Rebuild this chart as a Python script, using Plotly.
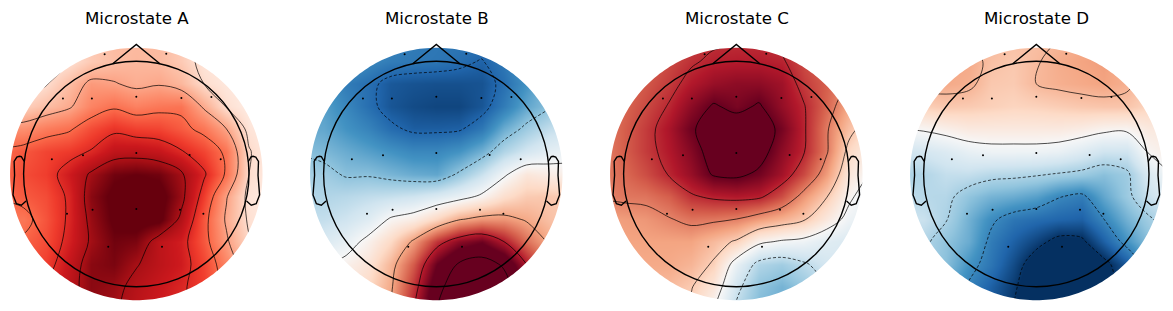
import numpy as np
import plotly.graph_objects as go

titles = ["Microstate A", "Microstate B", "Microstate C", "Microstate D"]
grid_x = [-1.2, -1.0, -0.8, -0.6, -0.4, -0.2, 0.0, 0.2, 0.4, 0.6, 0.8, 1.0, 1.2]
grid_y = [1.2, 1.0, 0.8, 0.6, 0.4, 0.2, 0.0, -0.2, -0.4, -0.6, -0.8, -1.0, -1.2]

map_a = [
 [.10,.10,.10,.15,.20,.25,.25,.25,.20,.10,.05,.05,.05],
 [.05,.05,.08,.12,.20,.24,.26,.25,.20,.10,.05,.03,.03],
 [.03,.06,.13,.24,.35,.33,.29,.31,.26,.14,.08,.04,.03],
 [.10,.18,.24,.30,.42,.48,.43,.46,.47,.30,.13,.05,.03],
 [.38,.38,.44,.48,.58,.65,.61,.60,.54,.46,.32,.10,.05],
 [.50,.55,.60,.63,.69,.79,.80,.77,.69,.60,.47,.15,.05],
 [.50,.58,.62,.74,.88,.98,1.0,.98,.88,.70,.48,.14,.05],
 [.50,.54,.58,.70,.93,1.03,1.06,1.05,.90,.62,.33,.10,.05],
 [.45,.46,.56,.70,.90,1.02,1.05,1.03,.83,.55,.30,.12,.05],
 [.50,.52,.58,.72,.88,.98,.96,.80,.73,.55,.34,.15,.05],
 [.50,.55,.62,.77,.93,.96,.87,.80,.74,.60,.42,.20,.08],
 [.60,.64,.68,.80,.93,.90,.82,.76,.70,.62,.45,.25,.10],
 [.60,.65,.70,.80,.90,.88,.80,.74,.70,.62,.45,.25,.10],
]
map_b = [
 [-.50,-.50,-.55,-.60,-.65,-.70,-.72,-.72,-.72,-.65,-.55,-.50,-.45],
 [-.50,-.50,-.55,-.65,-.70,-.72,-.73,-.76,-.81,-.72,-.55,-.45,-.40],
 [-.50,-.60,-.70,-.76,-.85,-.87,-.88,-.88,-.87,-.76,-.60,-.42,-.35],
 [-.50,-.55,-.65,-.76,-.86,-.90,-.92,-.92,-.86,-.70,-.52,-.42,-.30],
 [-.50,-.52,-.60,-.67,-.77,-.83,-.83,-.82,-.72,-.50,-.36,-.25,-.20],
 [-.42,-.45,-.50,-.55,-.60,-.65,-.65,-.60,-.48,-.30,-.18,-.10,-.05],
 [-.32,-.35,-.42,-.42,-.46,-.50,-.52,-.38,-.22,-.03,.12,.08,.05],
 [-.30,-.30,-.28,-.25,-.23,-.20,-.14,-.07,.03,.17,.26,.27,.25],
 [-.25,-.24,-.20,-.12,.02,.08,.22,.38,.45,.45,.38,.30,.25],
 [-.20,-.15,-.08,.05,.20,.43,.72,.90,.98,.80,.55,.38,.30],
 [-.10,-.02,.05,.14,.34,.62,1.0,1.22,1.30,1.17,.80,.50,.35],
 [0,.05,.10,.20,.38,.72,1.12,1.35,1.45,1.30,1.0,.60,.40],
 [0,.05,.12,.25,.42,.80,1.20,1.40,1.50,1.35,1.05,.65,.40],
]
map_c = [
 [.45,.50,.55,.62,.68,.72,.73,.73,.70,.62,.50,.40,.35],
 [.50,.52,.58,.66,.73,.78,.79,.79,.77,.66,.55,.45,.35],
 [.50,.55,.62,.70,.80,.87,.90,.90,.85,.70,.60,.47,.35],
 [.50,.58,.66,.76,.90,1.02,.95,1.02,.88,.76,.58,.38,.30],
 [.50,.60,.70,.82,.98,1.08,1.12,1.10,.96,.77,.52,.30,.15],
 [.50,.60,.70,.80,.92,1.08,1.14,1.08,.90,.76,.52,.20,.05],
 [.50,.57,.65,.76,.87,1.02,1.04,.97,.84,.66,.42,.12,-.02],
 [.50,.53,.54,.60,.73,.78,.80,.78,.65,.44,.26,.03,-.10],
 [.40,.42,.44,.49,.54,.53,.50,.42,.35,.27,.10,-.05,-.10],
 [.40,.40,.40,.40,.40,.32,.23,.04,-.02,-.05,-.12,-.15,-.15],
 [.35,.36,.38,.38,.34,.23,-.08,-.30,-.35,-.27,-.18,-.15,-.15],
 [.30,.32,.34,.32,.26,.12,-.20,-.40,-.47,-.38,-.25,-.18,-.15],
 [.30,.30,.30,.30,.22,.0,-.28,-.45,-.50,-.40,-.28,-.18,-.15],
]
map_d = [
 [.30,.30,.30,.30,.33,.30,.30,.33,.38,.35,.30,.20,.10],
 [.30,.35,.40,.38,.30,.27,.32,.37,.40,.42,.36,.25,.15],
 [.35,.38,.38,.36,.27,.26,.33,.36,.38,.40,.36,.25,.15],
 [.20,.24,.27,.26,.24,.22,.23,.25,.27,.28,.28,.22,.15],
 [0,.02,.06,.10,.10,.10,.10,.10,.08,.04,.03,.10,.10],
 [-.20,-.18,-.14,-.08,-.05,-.05,-.05,-.07,-.13,-.20,-.20,.02,.08],
 [-.32,-.30,-.24,-.24,-.28,-.29,-.31,-.34,-.37,-.42,-.36,-.15,0],
 [-.25,-.28,-.29,-.40,-.47,-.50,-.55,-.65,-.70,-.52,-.37,-.22,-.10],
 [-.20,-.22,-.32,-.48,-.63,-.73,-.77,-.80,-.82,-.66,-.48,-.35,-.25],
 [-.25,-.30,-.40,-.50,-.70,-.82,-.93,-1.05,-1.03,-.82,-.60,-.42,-.30],
 [-.30,-.33,-.42,-.60,-.73,-.90,-1.10,-1.20,-1.20,-1.05,-.85,-.55,-.35],
 [-.35,-.40,-.50,-.68,-.82,-.96,-1.15,-1.25,-1.25,-1.10,-.90,-.60,-.40],
 [-.40,-.45,-.55,-.72,-.85,-1.0,-1.20,-1.30,-1.30,-1.15,-.95,-.65,-.45],
]
levels_a = [.14, .32, .50, .68, .86]
levels_b = [-.8, -.4, 0, .4, .8, 1.2]
levels_c = [-.25, 0, .25, .5, .75, 1.0]
levels_d = [-.99, -.66, -.33, 0, .33]

sensor_x = [-.281, .266, -.651, -.394, .0, .4, .666, -.749, -.473, .0, .473, .749, -.615, -.388, .0, .388, .595, -.249, .228]
sensor_y = [1.062, 1.068, .670, .670, .686, .675, .683, .130, .166, .186, .169, .130, -.352, -.317, -.311, -.317, -.352, -.645, -.645]

REDS = [[0, "#fff5f0"], [.125, "#fee0d2"], [.25, "#fcbba1"], [.375, "#fc9272"], [.5, "#fb6a4a"],
        [.625, "#ef3b2c"], [.75, "#cb181d"], [.875, "#a50f15"], [1, "#67000d"]]
RDBU = [[0, "#053061"], [.1, "#2166ac"], [.2, "#4393c3"], [.3, "#92c5de"], [.4, "#d1e5f0"], [.5, "#f7f7f7"],
        [.6, "#fddbc7"], [.7, "#f4a582"], [.8, "#d6604d"], [.9, "#b2182b"], [1, "#67001f"]]

W, H = 1173, 311
UNIT = 112.7
CENTERS = [136.3, 436.3, 736.3, 1036.3]
CY = 174.0
HALF_PX = 149.5
EDGE = 1.12

maps = [map_a, map_b, map_c, map_d]
levels = [levels_a, levels_b, levels_c, levels_d]
scales = [(REDS, 0, 1.0), (RDBU, -1, 1), (RDBU, -1, 1), (RDBU, -1, 1)]

ear_x = [.994, 1.02, 1.036, 1.06, 1.084, 1.08, 1.094, 1.064, 1.02, .978]
ear_y = [.111, .155, .157, .149, .111, -.011, -.186, -.263, -.277, -.24]
nose_x, nose_y = .2094, .978
nose_tip = 1.15


def poly(xs, ys):
    return "M" + " L".join(f"{a:.4f},{b:.4f}" for a, b in zip(xs, ys))


theta = np.linspace(0, 2 * np.pi, 241)
hole = poly(EDGE * np.cos(theta), EDGE * np.sin(theta)) + " Z"
mask_path = "M-1.6,-1.6 L1.6,-1.6 L1.6,1.6 L-1.6,1.6 Z " + hole

fig = go.Figure()
shapes = []
annotations = []
layout_axes = {}
for i, cx in enumerate(CENTERS):
    suffix = "" if i == 0 else str(i + 1)
    xa, ya = "x" + suffix, "y" + suffix
    px_l, px_r = max(cx - HALF_PX, 0), min(cx + HALF_PX, W)
    px_t, px_b = CY - HALF_PX, H
    layout_axes["xaxis" + suffix] = dict(domain=[px_l / W, px_r / W],
                                         range=[(px_l - cx) / UNIT, (px_r - cx) / UNIT],
                                         visible=False, fixedrange=True)
    layout_axes["yaxis" + suffix] = dict(domain=[1 - px_b / H, 1 - px_t / H],
                                         range=[(CY - px_b) / UNIT, (CY - px_t) / UNIT],
                                         visible=False, fixedrange=True)
    cs, lo, hi = scales[i]
    fig.add_trace(go.Heatmap(x=grid_x, y=grid_y, z=maps[i], colorscale=cs, zmin=lo, zmax=hi, zsmooth="best",
                             showscale=False, hoverinfo="skip", xaxis=xa, yaxis=ya))
    for lv in levels[i]:
        fig.add_trace(go.Contour(x=grid_x, y=grid_y, z=maps[i], showscale=False, hoverinfo="skip",
                                 autocontour=False,
                                 contours=dict(coloring="none", start=lv, end=lv, size=1),
                                 line=dict(color="black", width=0.7, smoothing=1.0,
                                           dash="3px,2px" if lv < 0 else "solid"),
                                 xaxis=xa, yaxis=ya))
    fig.add_trace(go.Scatter(x=sensor_x, y=sensor_y, mode="markers", hoverinfo="skip",
                             marker=dict(color="black", size=2.0, line=dict(width=0)),
                             xaxis=xa, yaxis=ya))
    shapes.append(dict(type="path", path=mask_path, xref=xa, yref=ya, fillcolor="white", line=dict(width=0),
                       fillrule="evenodd", layer="above"))
    line = dict(color="black", width=1.4)
    shapes.append(dict(type="circle", x0=-1, x1=1, y0=-1, y1=1, xref=xa, yref=ya, line=line, layer="above"))
    shapes.append(dict(type="path", path=poly([-nose_x, 0, nose_x], [nose_y, nose_tip, nose_y]),
                       xref=xa, yref=ya, line=line, layer="above"))
    shapes.append(dict(type="path", path=poly(ear_x, ear_y), xref=xa, yref=ya, line=line, layer="above"))
    shapes.append(dict(type="path", path=poly([-v for v in ear_x], ear_y), xref=xa, yref=ya, line=line, layer="above"))
    annotations.append(dict(text=titles[i], x=(cx + 0.2) / W, y=1 - 18.5 / H, xref="paper", yref="paper",
                            showarrow=False, xanchor="center", yanchor="middle",
                            font=dict(family="DejaVu Sans", size=16.67, color="black")))

fig.update_layout(width=W, height=H, margin=dict(l=0, r=0, t=0, b=0), paper_bgcolor="white", plot_bgcolor="white",
                  showlegend=False, shapes=shapes, annotations=annotations, **layout_axes)
fig.write_html("out.html", config={"displayModeBar": False},
               post_script="document.body.style.margin='0';document.documentElement.style.overflow='hidden';")
